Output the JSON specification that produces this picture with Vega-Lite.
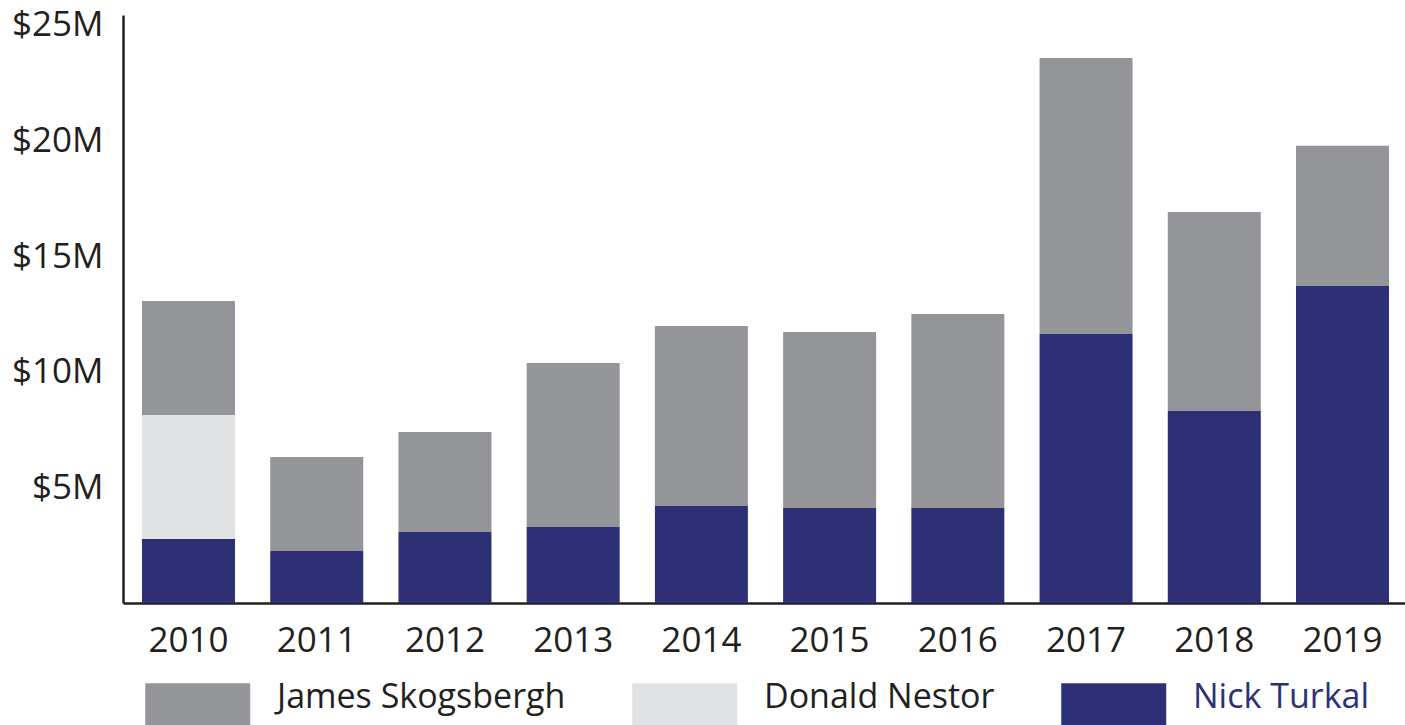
{
  "$schema": "https://vega.github.io/schema/vega-lite/v6.json",
  "width": 1282,
  "height": 588,
  "autosize": {"type": "none"},
  "padding": {"left": 123, "top": 15, "right": 0, "bottom": 122},
  "background": "white",
  "config": {
    "view": {"stroke": null},
    "font": "Open Sans",
    "axis": {"labelFont": "Open Sans", "labelColor": "#231f20", "labelFontSize": 35, "ticks": false, "grid": false, "title": null, "domainColor": "#231f20", "domainWidth": 2.5}
  },
  "data": {
    "values": [
      {"year": "2010", "name": "Nick Turkal", "amount": 2.77},
      {"year": "2010", "name": "Donald Nestor", "amount": 5.36},
      {"year": "2010", "name": "James Skogsbergh", "amount": 4.93},
      {"year": "2011", "name": "Nick Turkal", "amount": 2.25},
      {"year": "2011", "name": "James Skogsbergh", "amount": 4.06},
      {"year": "2012", "name": "Nick Turkal", "amount": 3.07},
      {"year": "2012", "name": "James Skogsbergh", "amount": 4.33},
      {"year": "2013", "name": "Nick Turkal", "amount": 3.29},
      {"year": "2013", "name": "James Skogsbergh", "amount": 7.09},
      {"year": "2014", "name": "Nick Turkal", "amount": 4.2},
      {"year": "2014", "name": "James Skogsbergh", "amount": 7.78},
      {"year": "2015", "name": "Nick Turkal", "amount": 4.11},
      {"year": "2015", "name": "James Skogsbergh", "amount": 7.61},
      {"year": "2016", "name": "Nick Turkal", "amount": 4.11},
      {"year": "2016", "name": "James Skogsbergh", "amount": 8.39},
      {"year": "2017", "name": "Nick Turkal", "amount": 11.63},
      {"year": "2017", "name": "James Skogsbergh", "amount": 11.94},
      {"year": "2018", "name": "Nick Turkal", "amount": 8.3},
      {"year": "2018", "name": "James Skogsbergh", "amount": 8.61},
      {"year": "2019", "name": "Nick Turkal", "amount": 13.71},
      {"year": "2019", "name": "James Skogsbergh", "amount": 6.06}
    ]
  },
  "transform": [
    {"calculate": "indexof(['Nick Turkal','Donald Nestor','James Skogsbergh'], datum.name)", "as": "rank"}
  ],
  "mark": {"type": "bar"},
  "encoding": {
    "x": {
      "field": "year", "type": "ordinal",
      "scale": {"paddingInner": 0.2747, "paddingOuter": 0.1365, "align": 0.543},
      "axis": {"labelAngle": 0, "labelPadding": 20, "labelBaseline": "top"}
    },
    "y": {
      "field": "amount", "type": "quantitative", "stack": "zero",
      "scale": {"domain": [0, 25.43], "nice": false, "zero": true},
      "axis": {"values": [5, 10, 15, 20, 25], "labelExpr": "'$' + datum.value + 'M'", "labelPadding": 20, "labelBaseline": "middle"}
    },
    "color": {
      "field": "name", "type": "nominal",
      "scale": {"domain": ["James Skogsbergh", "Donald Nestor", "Nick Turkal"], "range": ["#949598", "#e1e2e4", "#2e3075"]},
      "legend": {
        "title": null,
        "orient": "none",
        "direction": "horizontal",
        "legendX": 22,
        "legendY": 656,
        "padding": 0,
        "symbolType": "M-1,-0.55H3V1.3H-1Z",
        "symbolSize": 2756,
        "symbolStrokeWidth": 0,
        "symbolOpacity": 1,
        "labelOffset": 79,
        "labelFont": "Open Sans",
        "labelFontSize": 34,
        "labelColor": "#231f20",
        "labelLimit": 0,
        "columnPadding": 66,
        "encode": {"labels": {"update": {"fill": {"signal": "datum.label === 'Nick Turkal' ? '#2e3075' : '#231f20'"}}}}
      }
    },
    "order": {"field": "rank", "type": "quantitative"}
  }
}
